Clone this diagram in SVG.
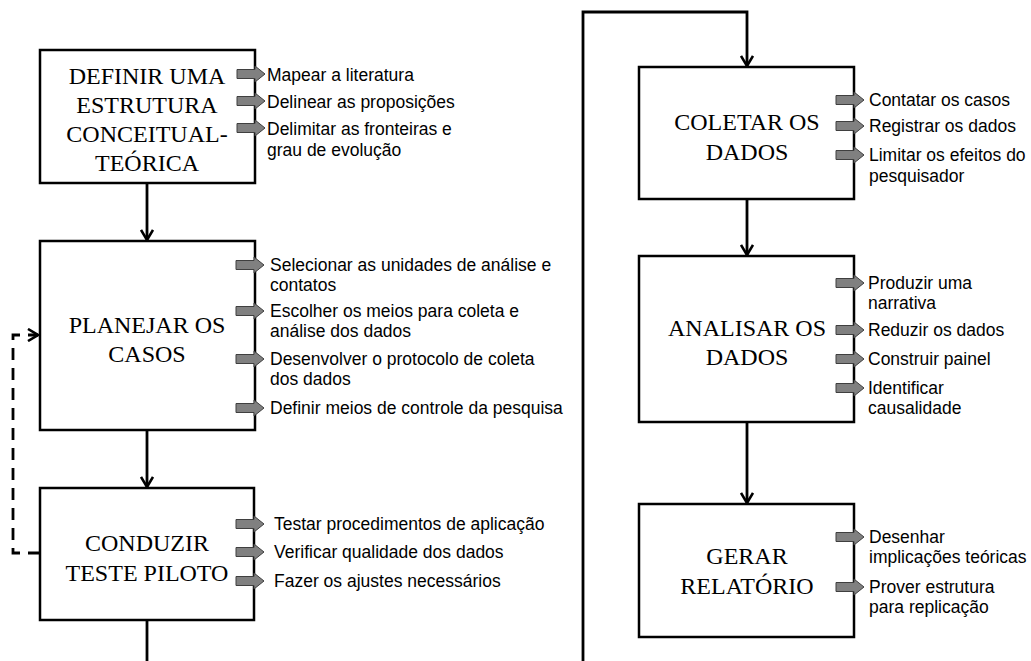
<svg xmlns="http://www.w3.org/2000/svg" xmlns:xlink="http://www.w3.org/1999/xlink" width="1031" height="661" viewBox="0 0 1031 661">
<style>
.box{fill:#fff;stroke:#000;stroke-width:2.5}
.title{font-family:"Liberation Serif","Times New Roman",serif;font-size:24px;fill:#000;text-anchor:middle}
.lbl{font-family:"Liberation Sans",Arial,sans-serif;font-size:17.5px;fill:#000}
.con{fill:none;stroke:#000;stroke-width:2.8}
.dash{fill:none;stroke:#000;stroke-width:2.8;stroke-dasharray:12 8}
.ba{fill:#808080;stroke:#3f3f3f;stroke-width:1}
</style>
<defs>
<marker id="ah" viewBox="0 0 12 14" refX="11" refY="7" markerWidth="12" markerHeight="14" orient="auto" markerUnits="userSpaceOnUse">
<path d="M1,1 L11,7 L1,13" fill="none" stroke="#000" stroke-width="2.6"/>
</marker>
<path id="ba" class="ba" d="M-18,-4.5 H0 V-8 L10,0 L0,8 V4.5 H-18 Z"/>
</defs>
<rect width="1031" height="661" fill="#fff"/>
<g id="connectors">
<path class="con" d="M147,183 V240" marker-end="url(#ah)"/>
<path class="con" d="M147,430 V487" marker-end="url(#ah)"/>
<path class="con" d="M147,620 V661"/>
<path class="dash" d="M40,553 H13 V335 H38" marker-end="url(#ah)"/>
<path class="con" d="M583,661 V12 H747 V66" marker-end="url(#ah)"/>
<path class="con" d="M747,199 V255" marker-end="url(#ah)"/>
<path class="con" d="M747,422 V503" marker-end="url(#ah)"/>
</g>
<g id="n1">
<rect class="box" x="40" y="50" width="215" height="133"/>
<text class="title" x="147" y="84">DEFINIR UMA</text>
<text class="title" x="147" y="113">ESTRUTURA</text>
<text class="title" x="147" y="142">CONCEITUAL-</text>
<text class="title" x="147" y="171">TEÓRICA</text>
<use xlink:href="#ba" x="255" y="74"/>
<use xlink:href="#ba" x="255" y="101"/>
<use xlink:href="#ba" x="255" y="128"/>
<text class="lbl" x="267" y="81">Mapear a literatura</text>
<text class="lbl" x="267" y="108">Delinear as proposições</text>
<text class="lbl" x="267" y="135">Delimitar as fronteiras e</text>
<text class="lbl" x="267" y="156">grau de evolução</text>
</g>
<g id="n2">
<rect class="box" x="40" y="241" width="215" height="189"/>
<text class="title" x="147" y="333">PLANEJAR OS</text>
<text class="title" x="147" y="362">CASOS</text>
<use xlink:href="#ba" x="254" y="265"/>
<use xlink:href="#ba" x="254" y="311"/>
<use xlink:href="#ba" x="254" y="359"/>
<use xlink:href="#ba" x="254" y="408"/>
<text class="lbl" x="270" y="271">Selecionar as unidades de análise e</text>
<text class="lbl" x="270" y="291">contatos</text>
<text class="lbl" x="270" y="317">Escolher os meios para coleta e</text>
<text class="lbl" x="270" y="337">análise dos dados</text>
<text class="lbl" x="270" y="365">Desenvolver o protocolo de coleta</text>
<text class="lbl" x="270" y="385">dos dados</text>
<text class="lbl" x="270" y="414">Definir meios de controle da pesquisa</text>
</g>
<g id="n3">
<rect class="box" x="40" y="488" width="214" height="132"/>
<text class="title" x="147" y="551">CONDUZIR</text>
<text class="title" x="147" y="581">TESTE PILOTO</text>
<use xlink:href="#ba" x="254" y="524"/>
<use xlink:href="#ba" x="254" y="552"/>
<use xlink:href="#ba" x="254" y="581"/>
<text class="lbl" x="274" y="530">Testar procedimentos de aplicação</text>
<text class="lbl" x="274" y="558">Verificar qualidade dos dados</text>
<text class="lbl" x="274" y="587">Fazer os ajustes necessários</text>
</g>
<g id="n4">
<rect class="box" x="639" y="67" width="215" height="132"/>
<text class="title" x="747" y="130">COLETAR OS</text>
<text class="title" x="747" y="160">DADOS</text>
<use xlink:href="#ba" x="854" y="100"/>
<use xlink:href="#ba" x="854" y="126"/>
<use xlink:href="#ba" x="854" y="155"/>
<text class="lbl" x="869" y="106">Contatar os casos</text>
<text class="lbl" x="869" y="132">Registrar os dados</text>
<text class="lbl" x="869" y="161">Limitar os efeitos do</text>
<text class="lbl" x="869" y="182">pesquisador</text>
</g>
<g id="n5">
<rect class="box" x="639" y="256" width="215" height="166"/>
<text class="title" x="747" y="336">ANALISAR OS</text>
<text class="title" x="747" y="365">DADOS</text>
<use xlink:href="#ba" x="854" y="283"/>
<use xlink:href="#ba" x="854" y="330"/>
<use xlink:href="#ba" x="854" y="359"/>
<use xlink:href="#ba" x="854" y="388"/>
<text class="lbl" x="868" y="289">Produzir uma</text>
<text class="lbl" x="868" y="309">narrativa</text>
<text class="lbl" x="868" y="336">Reduzir os dados</text>
<text class="lbl" x="868" y="365">Construir painel</text>
<text class="lbl" x="868" y="394">Identificar</text>
<text class="lbl" x="868" y="414">causalidade</text>
</g>
<g id="n6">
<rect class="box" x="639" y="504" width="215" height="133"/>
<text class="title" x="747" y="564">GERAR</text>
<text class="title" x="747" y="594">RELATÓRIO</text>
<use xlink:href="#ba" x="854" y="537"/>
<use xlink:href="#ba" x="854" y="587"/>
<text class="lbl" x="869" y="543">Desenhar</text>
<text class="lbl" x="869" y="563">implicações teóricas</text>
<text class="lbl" x="869" y="593">Prover estrutura</text>
<text class="lbl" x="869" y="613">para replicação</text>
</g>
</svg>
